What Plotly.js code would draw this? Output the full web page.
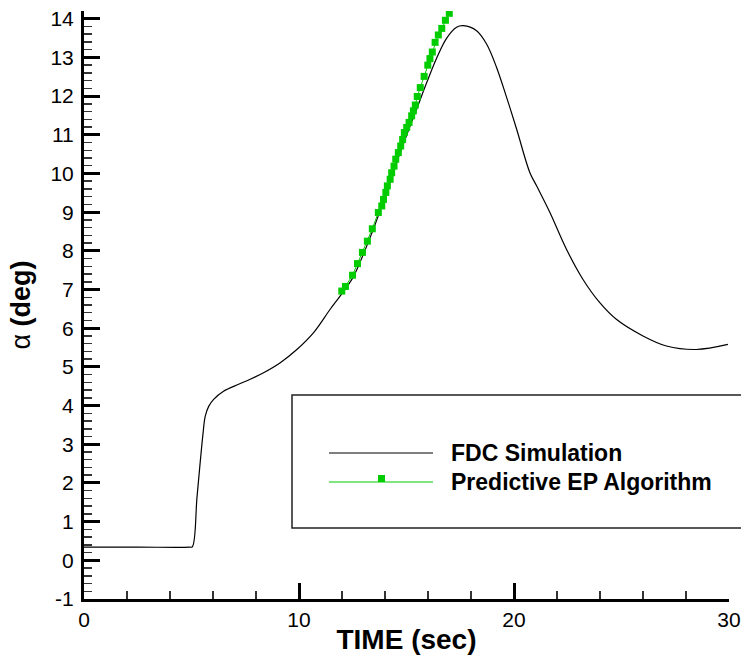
<!DOCTYPE html>
<html>
<head>
<meta charset="utf-8">
<script src="https://cdn.plot.ly/plotly-3.0.1.min.js"></script>
<style>html,body{margin:0;padding:0;background:#fff;}#chart{width:741px;height:657px;}</style>
</head>
<body>
<div id="chart"></div>
<script>
// FDC Simulation
const fdcTime = [0, 2.5, 4.9, 5.04, 5.26, 5.54, 5.64, 5.80, 6.03, 6.49, 7.19, 7.73, 8.35, 9.13, 9.9, 10.67, 11.45, 11.91, 12.5, 13.0, 13.5, 14.0, 14.5, 15.17, 15.47, 15.94, 16.4, 16.87, 17.33, 17.64, 18.26, 18.73, 19.19, 19.66, 20.12, 20.74, 21.05, 21.67, 22.44, 23.21, 23.99, 24.76, 26.0, 27.09, 28.48, 29.95];
const fdcAlpha = [0.34, 0.34, 0.34, 0.35, 1.66, 3.30, 3.73, 3.98, 4.16, 4.37, 4.55, 4.68, 4.85, 5.11, 5.45, 5.88, 6.49, 6.83, 7.3, 7.92, 8.62, 9.4, 10.22, 11.23, 11.66, 12.35, 12.98, 13.5, 13.78, 13.82, 13.69, 13.34, 12.74, 11.96, 11.15, 10.02, 9.68, 8.99, 8.04, 7.26, 6.66, 6.23, 5.80, 5.54, 5.45, 5.58];
// Predictive EP Algorithm
const epTime = [11.99, 12.16, 12.49, 12.72, 12.95, 13.18, 13.41, 13.69, 13.85, 13.93, 14.04, 14.11, 14.24, 14.31, 14.42, 14.50, 14.62, 14.73, 14.82, 14.90, 15.01, 15.12, 15.24, 15.32, 15.41, 15.50, 15.64, 15.82, 15.99, 16.09, 16.20, 16.33, 16.48, 16.64, 16.81, 16.99];
const epAlpha = [6.96, 7.08, 7.37, 7.67, 7.96, 8.25, 8.57, 8.99, 9.16, 9.33, 9.51, 9.68, 9.85, 10.02, 10.19, 10.37, 10.54, 10.71, 10.88, 11.06, 11.19, 11.32, 11.49, 11.62, 11.77, 11.99, 12.22, 12.51, 12.80, 12.97, 13.14, 13.39, 13.58, 13.75, 13.96, 14.14];
const seriesNames = ["FDC Simulation", "Predictive EP Algorithm"];
const xTickVals = [0, 10, 20, 30];
const xTickText = ["0", "10", "20", "30"];
const yTickVals = [-1, 0, 1, 2, 3, 4, 5, 6, 7, 8, 9, 10, 11, 12, 13, 14];
const yTickText = ["-1", "0", "1", "2", "3", "4", "5", "6", "7", "8", "9", "10", "11", "12", "13", "14"];
const xTitle = "TIME (sec)";
const yTitle = "α <b>(deg)</b>";

const green = "rgb(0,204,0)";
const FONT = "Liberation Sans, Arial, sans-serif";

const traces = [
  {x: fdcTime, y: fdcAlpha, mode: "lines", name: seriesNames[0],
   line: {color: "#000", width: 1.2, shape: "spline", smoothing: 1.0}, showlegend: false},
  {x: epTime, y: epAlpha, mode: "lines+markers", name: seriesNames[1],
   line: {color: green, width: 1}, marker: {symbol: "square", size: 7, color: green}, showlegend: false}
];

const lx0 = (329 - 84) / 645, lx1 = (433 - 84) / 645, lxm = (381 - 84) / 645;
const py = p => (599 - p) / 588;
const layout = {
  width: 741, height: 657,
  margin: {l: 84, r: 12, t: 11, b: 58},
  paper_bgcolor: "#fff", plot_bgcolor: "#fff",
  font: {family: FONT, color: "#000"},
  xaxis: {
    range: [0, 30], tickmode: "array", tickvals: xTickVals, ticktext: xTickText,
    showgrid: false, zeroline: false,
    showline: true, linecolor: "#000", linewidth: 3,
    ticks: "inside", ticklen: 16, tickwidth: 3, tickcolor: "#000",
    minor: {dtick: 2, tick0: 0, ticks: "inside", ticklen: 8, tickwidth: 1.5, tickcolor: "#333", showgrid: false},
    tickfont: {size: 21, family: FONT},
    title: {text: "<b>" + xTitle + "</b>", font: {size: 28, family: FONT}, standoff: 0}
  },
  yaxis: {
    range: [-1, 14.2], tickmode: "array", tickvals: yTickVals, ticktext: yTickText,
    showgrid: false, zeroline: false,
    showline: true, linecolor: "#000", linewidth: 3,
    ticks: "inside", ticklen: 16, tickwidth: 3, tickcolor: "#000",
    minor: {dtick: 0.2, tick0: 0, ticks: "inside", ticklen: 8, tickwidth: 1.5, tickcolor: "#333", showgrid: false},
    tickfont: {size: 21, family: FONT},
    ticklabelstandoff: 3,
    title: {text: yTitle, font: {size: 27, family: FONT}, standoff: 12}
  },
  shapes: [
    {type: "rect", xref: "paper", yref: "paper", x0: (292 - 84) / 645, x1: 1.05, y0: py(528), y1: py(395),
     line: {color: "#222", width: 1.5}, fillcolor: "rgba(0,0,0,0)", layer: "above"},
    {type: "line", xref: "paper", yref: "paper", x0: lx0, x1: lx1, y0: py(453), y1: py(453),
     line: {color: "#000", width: 1.2}},
    {type: "line", xref: "paper", yref: "paper", x0: lx0, x1: lx1, y0: py(482), y1: py(482),
     line: {color: green, width: 1}}
  ],
  annotations: [
    {xref: "paper", yref: "paper", x: (449 - 84) / 645, y: py(453), xanchor: "left", yanchor: "middle",
     text: "<b>" + seriesNames[0] + "</b>", showarrow: false, font: {size: 23, family: FONT}},
    {xref: "paper", yref: "paper", x: (449 - 84) / 645, y: py(482), xanchor: "left", yanchor: "middle",
     text: "<b>" + seriesNames[1] + "</b>", showarrow: false, font: {size: 23, family: FONT}},
    {xref: "paper", yref: "paper", x: lxm, y: py(482), text: "", showarrow: false,
     width: 7, height: 7, bgcolor: green, borderpad: 0, borderwidth: 0}
  ]
};
Plotly.newPlot("chart", traces, layout, {displayModeBar: false, staticPlot: true});
</script>
</body>
</html>
